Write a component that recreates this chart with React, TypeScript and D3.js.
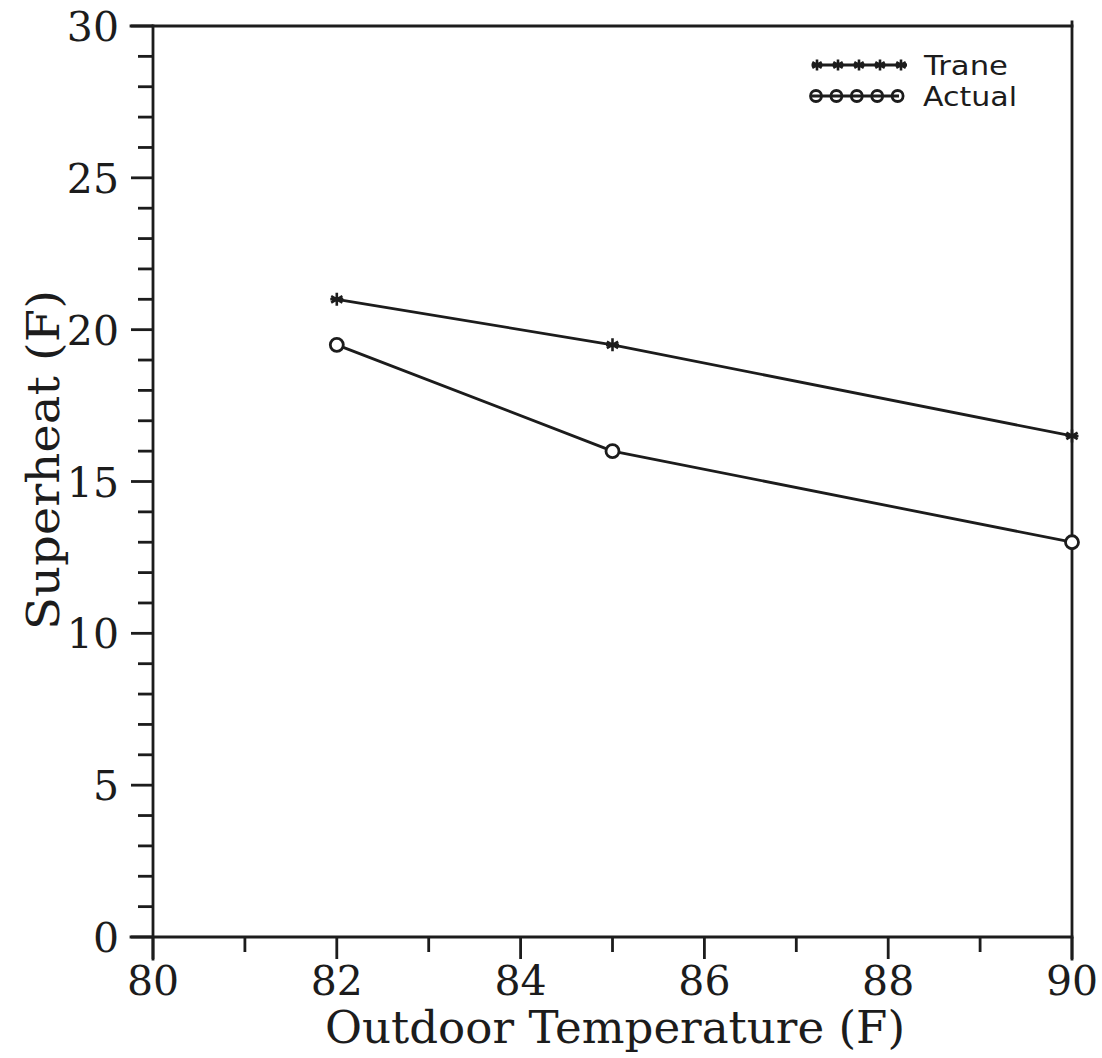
import React from "react";
import * as d3 from "d3";

// Outdoor temperature (F) at which superheat was measured
const temps = [82, 85, 90];
// Superheat (F) from the Trane charging chart
const traneSuperheat = [21, 19.5, 16.5];
// Superheat (F) actually measured
const actualSuperheat = [19.5, 16, 13];

const xTicksMajor = [80, 82, 84, 86, 88, 90];
const xTicksMinor = [81, 83, 85, 87, 89];
const yTicksMajor = [0, 5, 10, 15, 20, 25, 30];
const yTicksMinor = d3.range(0, 31).filter((v) => v % 5 !== 0);

const W = 1102;
const H = 1058;
const INK = "#1c1c1c";
const SERIF = "'DejaVu Serif', 'Liberation Serif', serif";
const SANS = "'DejaVu Sans', 'Liberation Sans', sans-serif";

function asteriskPath(cx: number, cy: number, r: number): string {
  const p = d3.path();
  p.moveTo(cx, cy - r);
  p.lineTo(cx, cy + r);
  const dx = r * Math.cos(Math.PI / 6);
  const dy = r * Math.sin(Math.PI / 6);
  p.moveTo(cx - dx, cy - dy);
  p.lineTo(cx + dx, cy + dy);
  p.moveTo(cx - dx, cy + dy);
  p.lineTo(cx + dx, cy - dy);
  p.moveTo(cx - r, cy);
  p.lineTo(cx + r, cy);
  return p.toString();
}

export default function App() {
  const x = d3.scaleLinear().domain([80, 90]).range([153, 1072]);
  const y = d3.scaleLinear().domain([0, 30]).range([937, 26]);

  const line = d3
    .line<[number, number]>()
    .x((d) => x(d[0]))
    .y((d) => y(d[1]));

  const trane: [number, number][] = temps.map((t, i) => [t, traneSuperheat[i]]);
  const actual: [number, number][] = temps.map((t, i) => [t, actualSuperheat[i]]);

  const x0 = x(80);
  const x1 = x(90);
  const y0 = y(0);
  const y1 = y(30);
  const majorLen = 22;
  const minorLen = 15;

  // legend layout
  const legX0 = 812;
  const legX1 = 907;
  const legMarks = d3.range(5).map((i) => legX0 + 5 + i * 21);

  return (
    <svg
      width={W}
      height={H}
      viewBox={`0 0 ${W} ${H}`}
      style={{ position: "absolute", left: 0, top: 0, background: "#fff" }}
    >
      <rect width={W} height={H} fill="#fff" />

      {/* frame */}
      <g stroke={INK} strokeWidth={2.8} fill="none" strokeLinecap="square">
        <line x1={x0} y1={y1} x2={x0} y2={y0 + majorLen} />
        <line x1={x0 - majorLen} y1={y0} x2={x1} y2={y0} />
        <line x1={x0 - majorLen} y1={y1} x2={x1} y2={y1} />
        <line x1={x1} y1={y1 - 4} x2={x1} y2={y0 + majorLen} />
      </g>

      {/* ticks */}
      <g stroke={INK} strokeWidth={2.8}>
        {xTicksMajor.map((t) => (
          <line key={`xM${t}`} x1={x(t)} x2={x(t)} y1={y0} y2={y0 + majorLen} />
        ))}
        {xTicksMinor.map((t) => (
          <line key={`xm${t}`} x1={x(t)} x2={x(t)} y1={y0} y2={y0 + minorLen} />
        ))}
        {yTicksMajor.map((t) => (
          <line key={`yM${t}`} x1={x0 - majorLen} x2={x0} y1={y(t)} y2={y(t)} />
        ))}
        {yTicksMinor.map((t) => (
          <line key={`ym${t}`} x1={x0 - minorLen} x2={x0} y1={y(t)} y2={y(t)} />
        ))}
      </g>

      {/* tick labels */}
      <g fill={INK} fontFamily={SERIF} fontSize={41}>
        {xTicksMajor.map((t) => (
          <text key={`xl${t}`} x={x(t)} y={y0 + 58} textAnchor="middle">
            {t}
          </text>
        ))}
        {yTicksMajor.map((t) => (
          <text key={`yl${t}`} x={x0 - 34} y={y(t) + 15} textAnchor="end">
            {t}
          </text>
        ))}
      </g>

      {/* axis titles */}
      <text
        x={615}
        y={1043}
        textAnchor="middle"
        fontFamily={SERIF}
        fontSize={45}
        fill={INK}
        textLength={580}
        lengthAdjust="spacingAndGlyphs"
      >
        Outdoor Temperature (F)
      </text>
      <text
        transform={`translate(59, 460) rotate(-90)`}
        textAnchor="middle"
        fontFamily={SERIF}
        fontSize={45}
        fill={INK}
        textLength={340}
        lengthAdjust="spacingAndGlyphs"
      >
        Superheat (F)
      </text>

      {/* series */}
      <g fill="none" stroke={INK} strokeWidth={2.8} strokeLinejoin="round">
        <path d={line(trane) ?? ""} />
        <path d={line(actual) ?? ""} />
        {trane.map((d, i) => (
          <path key={`ta${i}`} d={asteriskPath(x(d[0]), y(d[1]), 6.5)} strokeWidth={2.6} />
        ))}
        {actual.map((d, i) => (
          <circle key={`ac${i}`} cx={x(d[0])} cy={y(d[1])} r={6.5} fill="#fff" />
        ))}
      </g>

      {/* legend */}
      <g fill="none" stroke={INK} strokeWidth={2.8}>
        <line x1={legX0} x2={legX1} y1={65} y2={65} />
        {legMarks.map((lx, i) => (
          <path key={`lt${i}`} d={asteriskPath(lx, 65, 5.5)} strokeWidth={2.6} />
        ))}
        <line x1={legX0} x2={legX1 - 8} y1={96} y2={96} />
        {legMarks.map((lx, i) => (
          <circle key={`la${i}`} cx={lx - 1 - i * 0.6} cy={96} r={5.5} />
        ))}
      </g>
      <g fill={INK} fontFamily={SANS} fontSize={27}>
        <text x={924} y={75} textLength={84} lengthAdjust="spacingAndGlyphs">
          Trane
        </text>
        <text x={923} y={106} textLength={94} lengthAdjust="spacingAndGlyphs">
          Actual
        </text>
      </g>
    </svg>
  );
}
